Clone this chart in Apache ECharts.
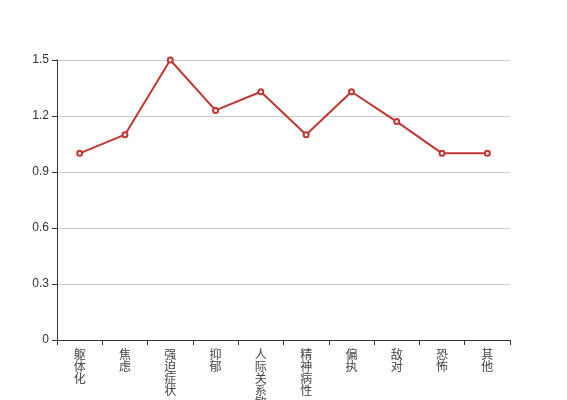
<!DOCTYPE html>
<html>
<head>
<meta charset="utf-8">
<script src="https://cdn.jsdelivr.net/npm/echarts@6/dist/echarts.min.js"></script>
<style>
  html, body { margin: 0; padding: 0; background: #fff; }
  #chart { width: 567px; height: 400px; }
</style>
</head>
<body>
<div id="chart"></div>
<script>
const categories = ['躯体化', '焦虑', '强迫症状', '抑郁', '人际关系敏感', '精神病性', '偏执', '敌对', '恐怖', '其他']
const scores = [1.0, 1.1, 1.5, 1.23, 1.33, 1.1, 1.33, 1.17, 1.0, 1.0]

const chart = echarts.init(document.getElementById('chart'))
chart.setOption({
  animation: false,
  grid: { left: 57, right: 57, top: 60, bottom: 60, containLabel: false, outerBoundsMode: 'none' },
  xAxis: {
    type: 'category',
    data: categories,
    axisLine: { lineStyle: { color: '#333' } },
    axisTick: { show: true, alignWithLabel: false, lineStyle: { color: '#333' } },
    axisLabel: {
      interval: 0,
      color: '#444',
      fontSize: 12,
      lineHeight: 12,
      fontFamily: 'Noto Sans CJK SC',
      formatter: v => v.split('').join('\n') // 竖排
    }
  },
  yAxis: {
    type: 'value',
    min: 0,
    max: 1.5,
    interval: 0.3,
    axisLine: { show: true, lineStyle: { color: '#333' } },
    axisTick: { show: true, lineStyle: { color: '#333' } },
    axisLabel: { color: '#333', fontSize: 12, fontFamily: 'sans-serif' },
    splitLine: { lineStyle: { color: '#ccc' } }
  },
  series: [{
    type: 'line',
    data: scores,
    symbol: 'emptyCircle',
    symbolSize: 5,
    itemStyle: { color: '#c23531', borderWidth: 1 },
    lineStyle: { color: '#c23531', width: 2 }
  }]
})
</script>
</body>
</html>
